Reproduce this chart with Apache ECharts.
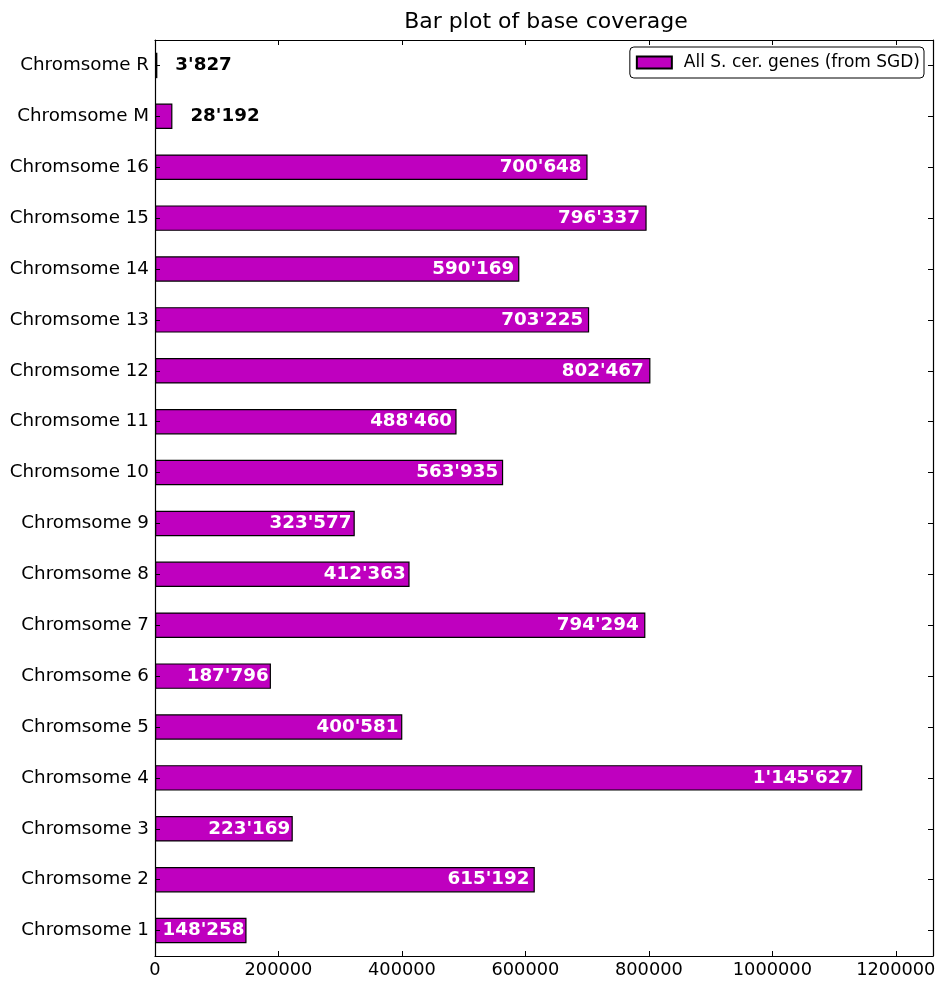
<!DOCTYPE html>
<html><head><meta charset="utf-8">
<script src="https://cdn.jsdelivr.net/npm/echarts@6/dist/echarts.min.js"></script>
<style>html,body{margin:0;padding:0;background:#fff}#c{width:941px;height:982px}</style>
</head><body><div id="c"></div>
<script>
const categories = ["Chromsome 1","Chromsome 2","Chromsome 3","Chromsome 4","Chromsome 5","Chromsome 6","Chromsome 7","Chromsome 8","Chromsome 9","Chromsome 10","Chromsome 11","Chromsome 12","Chromsome 13","Chromsome 14","Chromsome 15","Chromsome 16","Chromsome M","Chromsome R"];
const coverage = [148258,615192,223169,1145627,400581,187796,794294,412363,323577,563935,488460,802467,703225,590169,796337,700648,28192,3827];
const xTicks = [0,200000,400000,600000,800000,1000000,1200000];
const seriesName = "All S. cer. genes (from SGD)";
const titleText = "Bar plot of base coverage";

const FONT = "DejaVu Sans";
const LBL = 18.3;
const maxV = Math.max(...coverage) * 1.1;
function fmt(v){ return String(v).replace(/\B(?=(\d{3})+(?!\d))/g, "'"); }
const data = coverage.map(v => {
  if (v < 100000) {
    return {value: v, label: {show:true, position:'right', distance:18, color:'#000', fontWeight:'bold', fontSize:LBL, fontFamily:FONT, formatter: p => fmt(p.value)}};
  }
  return {value: v, label: {distance: 1 + 9 * v / maxV}};
});
const chart = echarts.init(document.getElementById('c'));
const lineStyleAxis = {show:true, onZero:false, lineStyle:{color:'#000', width:1.2}};
const tickIn = {show:true, inside:true, length:5, lineStyle:{color:'#000', width:1}};
chart.setOption({
  animation:false,
  title:{text:titleText, left:541, textAlign:'center', top:6, textStyle:{fontFamily:FONT, fontSize:22, fontWeight:'normal', color:'#000'}},
  legend:{show:true, data:[seriesName], right:17, top:47, orient:'vertical', icon:'rect', itemWidth:35, itemHeight:12, itemGap:0,
    backgroundColor:'#fff', borderColor:'#000', borderWidth:1, borderRadius:4, padding:[7,4,7,6],
    textStyle:{fontFamily:FONT, fontSize:17, color:'#000', padding:[0,0,0,7]}},
  grid:{left:155, right:8, top:40, bottom:26, containLabel:false},
  xAxis:[
    {type:'value', min:0, max:maxV, interval:200000, position:'bottom', z:5,
      axisLine:lineStyleAxis, axisTick:tickIn, splitLine:{show:false},
      axisLabel:{show:true, margin:5, color:'#000', fontFamily:FONT, fontSize:17.8, showMaxLabel:false,
        formatter: v => xTicks.includes(v) ? String(v) : ''}},
    {type:'value', min:0, max:maxV, interval:200000, position:'top', z:5,
      axisLine:lineStyleAxis, axisTick:tickIn, splitLine:{show:false}, axisLabel:{show:false}}
  ],
  yAxis:[
    {type:'category', data:categories, position:'left', boundaryGap:true, z:5,
      axisLine:lineStyleAxis, splitLine:{show:false},
      axisLabel:{show:true, margin:6, color:'#000', fontFamily:FONT, fontSize:18.3},
      axisTick:{show:true, inside:true, length:5, alignWithLabel:true, lineStyle:{color:'#000'}}},
    {type:'category', data:categories, position:'right', boundaryGap:true, z:5,
      axisLine:lineStyleAxis, splitLine:{show:false},
      axisLabel:{show:false},
      axisTick:{show:true, inside:true, length:5, alignWithLabel:true, lineStyle:{color:'#000'}}}
  ],
  series:[{
    name:seriesName, type:'bar', xAxisIndex:0, yAxisIndex:0, barWidth:'50%', data:data, z:2,
    itemStyle:{color:'#bf00bf', borderColor:'#000', borderWidth:1.2},
    label:{show:true, position:'insideRight', color:'#fff', fontWeight:'bold', fontSize:LBL, fontFamily:FONT, formatter: p => fmt(p.value)}
  }]
});
</script></body></html>
